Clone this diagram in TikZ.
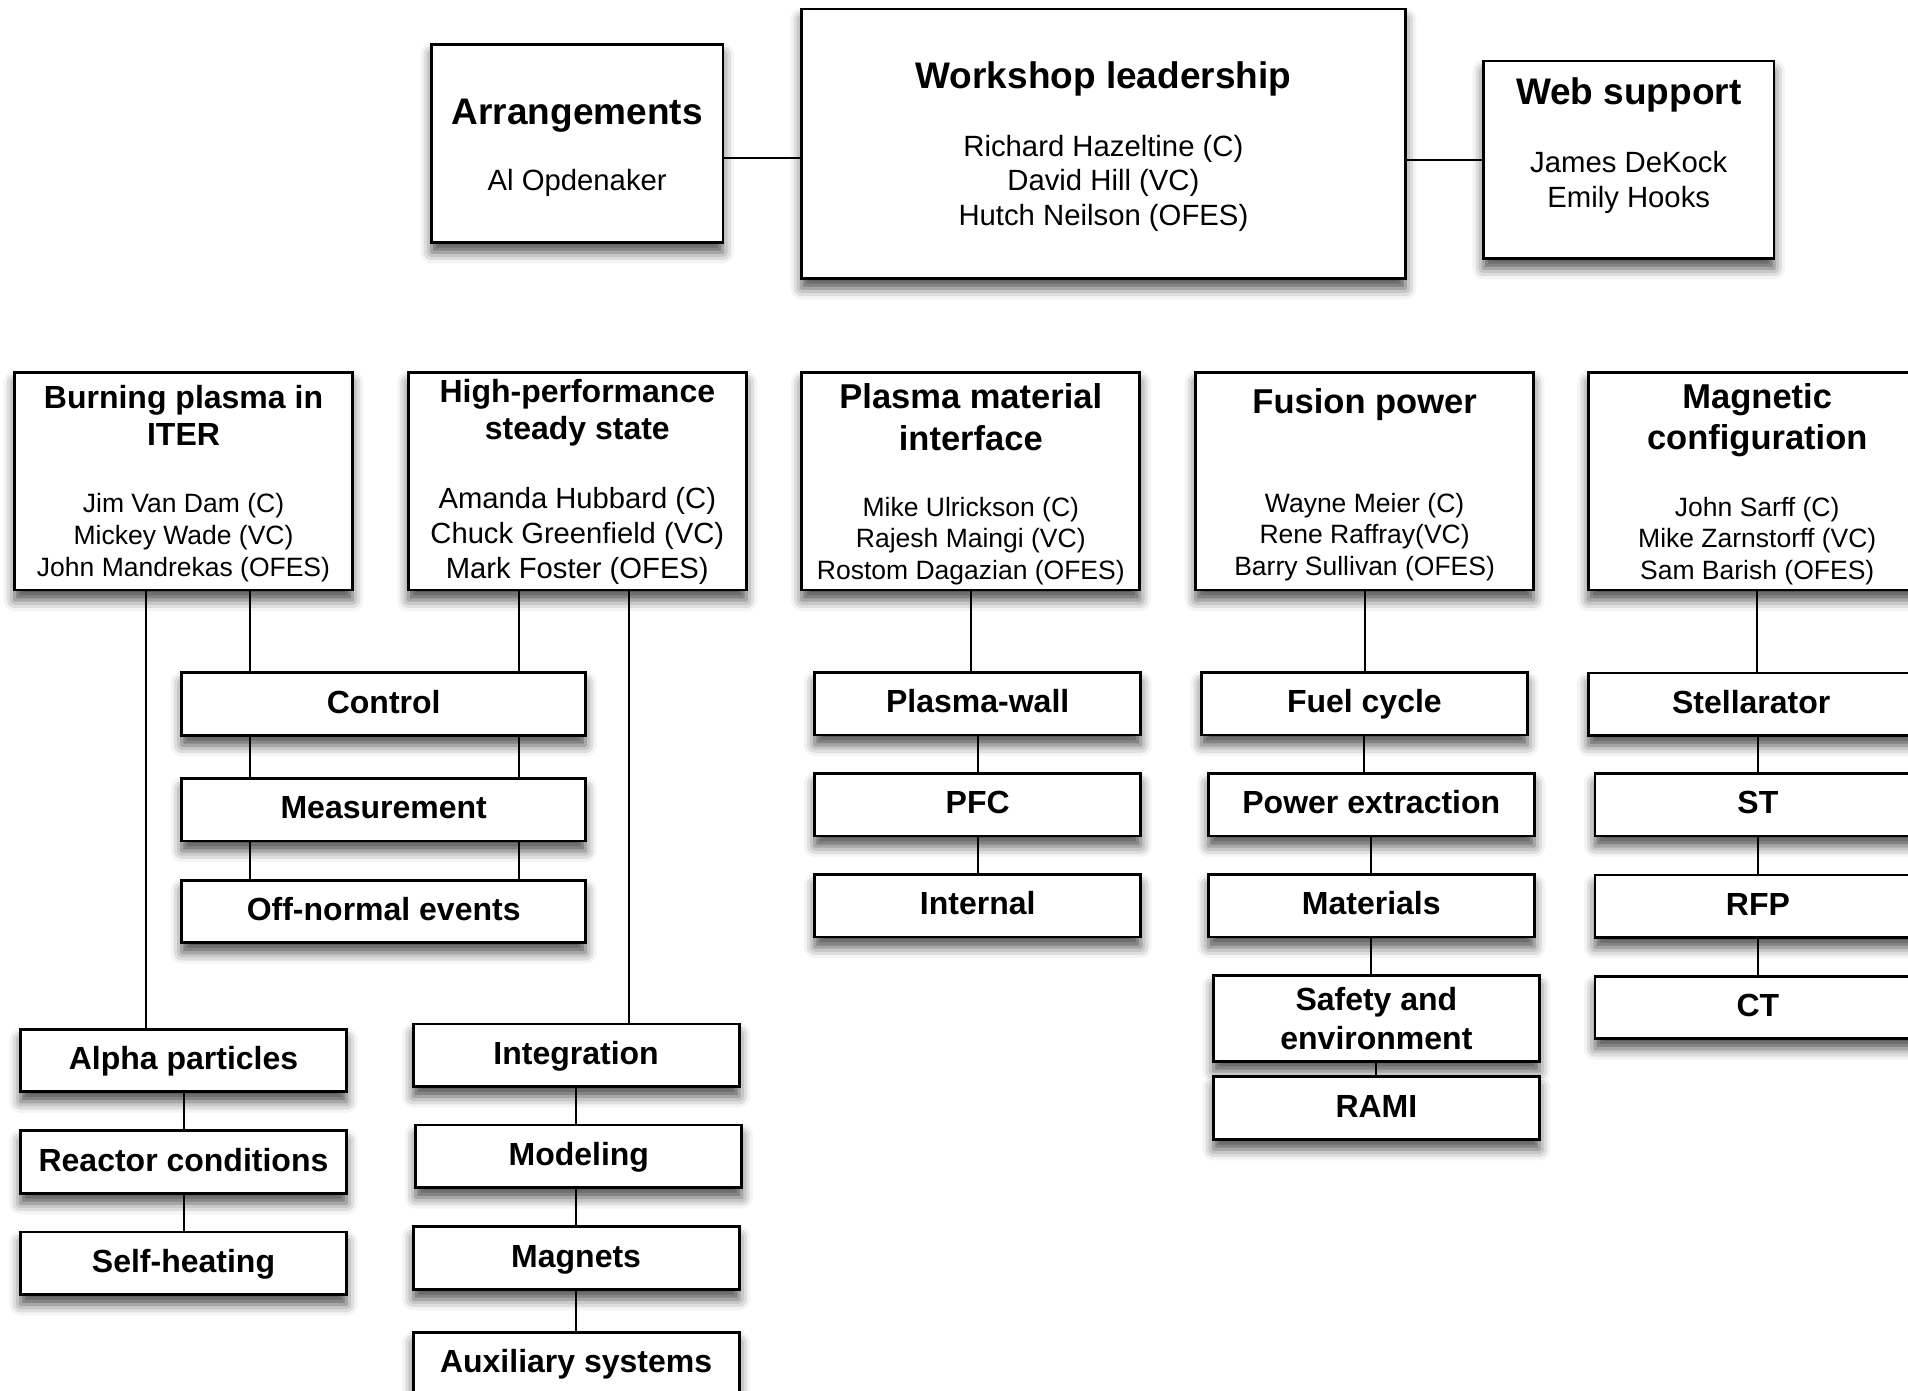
\documentclass[tikz,border=0pt]{standalone}
\usepackage{fontspec}
\setmainfont{Liberation Sans}
\usetikzlibrary{shadows.blur}
\begin{document}
\begin{tikzpicture}[x=1pt,y=-1pt,
  box/.style={draw=black, line width=2.8pt, fill=white, rectangle, inner sep=0pt,
    blur shadow={shadow xshift=0pt, shadow yshift=-10pt, shadow blur radius=11pt, shadow opacity=70}},
  grp/.style={box, minimum width=338pt, minimum height=217.7pt},
  subb/.style={box, minimum width=326pt, minimum height=62.5pt, align=center,
    font=\fontsize{32}{38.5}\selectfont\bfseries},
  sub/.style={subb, text height=23pt, text depth=5pt},
  conn/.style={line width=2pt, draw=black},
  txt/.style={inner sep=0pt, align=center},
  topt/.style={txt, font=\fontsize{37}{44}\selectfont\bfseries},
  topn/.style={txt, font=\fontsize{29.3}{34.5}\selectfont},
  gtA/.style={txt, font=\fontsize{32}{36.7}\selectfont\bfseries},
  gtB/.style={txt, font=\fontsize{34.5}{41.7}\selectfont\bfseries},
  gnA/.style={txt, font=\fontsize{26.5}{32}\selectfont},
  gnB/.style={txt, font=\fontsize{29.2}{34.6}\selectfont}
]
\useasboundingbox (0,0) rectangle (1908,1390);

% ---------- top row ----------
\node[box, minimum width=291.4pt, minimum height=198pt] (arr) at (577.2,143.3) {};
\node[box, minimum width=603.9pt, minimum height=269.3pt] (wl) at (1103.4,143.7) {};
\node[box, minimum width=290.7pt, minimum height=197.3pt] (web) at (1628.7,159.7) {};

\node[topt] (arrT) at (577.2,115.3) {Arrangements};
\node[topn] (arrN) at (577.2,183) {Al Opdenaker};
\node[topt] (wlT) at (1103.4,79.2) {Workshop leadership};
\node[topn] (wlN) at (1103.4,183) {Richard Hazeltine (C)\\David Hill (VC)\\Hutch Neilson (OFES)};
\node[topt] (webT) at (1628.7,95.3) {Web support};
\node[topn, font=\fontsize{29.3}{35.6}\selectfont] (webN) at (1628.7,182.5) {James DeKock\\Emily Hooks};

% ---------- group row ----------
\node[grp] (bp) at (183.5,481.2) {};
\node[grp] (hp) at (577.3,481.2) {};
\node[grp] (pmi) at (970.8,481.2) {};
\node[grp] (fp) at (1364.6,481.2) {};
\node[grp] (mc) at (1757.2,481.2) {};

\node[gtA] (bpT) at (183.5,415.5) {Burning plasma in\\ITER};
\node[gnA] (bpN) at (183.5,538) {Jim Van Dam (C)\\Mickey Wade (VC)\\John Mandrekas (OFES)};
\node[gtA] (hpT) at (577.3,413) {High-performance\\steady state};
\node[gnB] (hpN) at (577.3,536) {Amanda Hubbard (C)\\Chuck Greenfield (VC)\\Mark Foster (OFES)};
\node[gtB] (pmiT) at (970.8,417.5) {Plasma material\\interface};
\node[gnA, font=\fontsize{26.5}{31.6}\selectfont] (pmiN) at (970.8,541) {Mike Ulrickson (C)\\Rajesh Maingi (VC)\\Rostom Dagazian (OFES)};
\node[gtB] (fpT) at (1364.6,404.5) {Fusion power};
\node[gnA, font=\fontsize{26.5}{31.6}\selectfont] (fpN) at (1364.6,537) {Wayne Meier (C)\\Rene Raffray(VC)\\Barry Sullivan (OFES)};
\node[gtB] (mcT) at (1757.2,420) {Magnetic\\configuration};
\node[gnA, font=\fontsize{26.5}{31.6}\selectfont] (mcN) at (1757.2,541) {John Sarff (C)\\Mike Zarnstorff (VC)\\Sam Barish (OFES)};

% ---------- sub boxes ----------
\node[sub, minimum width=403.8pt] (ctrl) at (383.7,704) {Control};
\node[sub, minimum width=403.8pt] (meas) at (383.7,809.7) {Measurement};
\node[sub, minimum width=403.8pt] (off) at (383.7,911.4) {Off-normal events};

\node[sub] (alpha) at (183.5,1060.5) {Alpha particles};
\node[sub] (reac) at (183.5,1162) {Reactor conditions};
\node[sub] (self) at (183.5,1263.3) {Self-heating};

\node[sub] (integ) at (576.1,1055.3) {Integration};
\node[sub] (model) at (578.8,1156.3) {Modeling};
\node[sub] (magn) at (576.1,1258) {Magnets};
\node[sub] (aux) at (576.1,1363.6) {Auxiliary systems};

\node[sub] (pw) at (977.7,703.7) {Plasma-wall};
\node[sub] (pfc) at (977.7,804.8) {PFC};
\node[sub] (int) at (977.7,905.8) {Internal};

\node[sub] (fuel) at (1364.4,703.7) {Fuel cycle};
\node[sub] (pex) at (1371.3,804.8) {Power extraction};
\node[sub] (mat) at (1371.3,905.8) {Materials};
\node[subb, minimum height=85.4pt] (safe) at (1376.4,1018.4) {Safety and\\environment};
\node[sub] (rami) at (1376.4,1108) {RAMI};

\node[sub] (stel) at (1751.2,704.2) {Stellarator};
\node[sub] (st) at (1757.9,804.7) {ST};
\node[sub] (rfp) at (1757.9,906.2) {RFP};
\node[sub] (ct) at (1757.9,1007.5) {CT};

% ---------- connectors ----------
\draw[conn] ([yshift=-15pt]arr.east) -- ([yshift=-15pt]arr.east -| wl.west);
\draw[conn] (wl.east |- web.west) -- (web.west);

\draw[conn] ([xshift=-38pt]bp.south) -- ([xshift=-38pt]bp.south |- alpha.north);
\draw[conn] ([xshift=66pt]bp.south) -- ([xshift=66pt]bp.south |- ctrl.north);
\draw[conn] ([xshift=-58.6pt]hp.south) -- ([xshift=-58.6pt]hp.south |- ctrl.north);
\draw[conn] ([xshift=51.4pt]hp.south) -- ([xshift=51.4pt]hp.south |- integ.north);

\draw[conn] ([xshift=-134.1pt]ctrl.south) -- ([xshift=-134.1pt]ctrl.south |- meas.north);
\draw[conn] ([xshift=135pt]ctrl.south) -- ([xshift=135pt]ctrl.south |- meas.north);
\draw[conn] ([xshift=-134.1pt]meas.south) -- ([xshift=-134.1pt]meas.south |- off.north);
\draw[conn] ([xshift=135pt]meas.south) -- ([xshift=135pt]meas.south |- off.north);

\draw[conn] (alpha.south) -- (reac.north);
\draw[conn] (reac.south) -- (self.north);

\draw[conn] (integ.south) -- (integ.south |- model.north);
\draw[conn] (magn.north |- model.south) -- (magn.north);
\draw[conn] (magn.south) -- (aux.north);

\draw[conn] (pmi.south) -- (pmi.south |- pw.north);
\draw[conn] (pw.south) -- (pfc.north);
\draw[conn] (pfc.south) -- (int.north);

\draw[conn] (fp.south) -- (fp.south |- fuel.north);
\draw[conn] (fuel.south) -- (fuel.south |- pex.north);
\draw[conn] (pex.south) -- (mat.north);
\draw[conn] (mat.south) -- (mat.south |- safe.north);
\draw[conn] (safe.south) -- (rami.north);

\draw[conn] (mc.south) -- (mc.south |- stel.north);
\draw[conn] (st.north |- stel.south) -- (st.north);
\draw[conn] (st.south) -- (rfp.north);
\draw[conn] (rfp.south) -- (ct.north);
\end{tikzpicture}
\end{document}
